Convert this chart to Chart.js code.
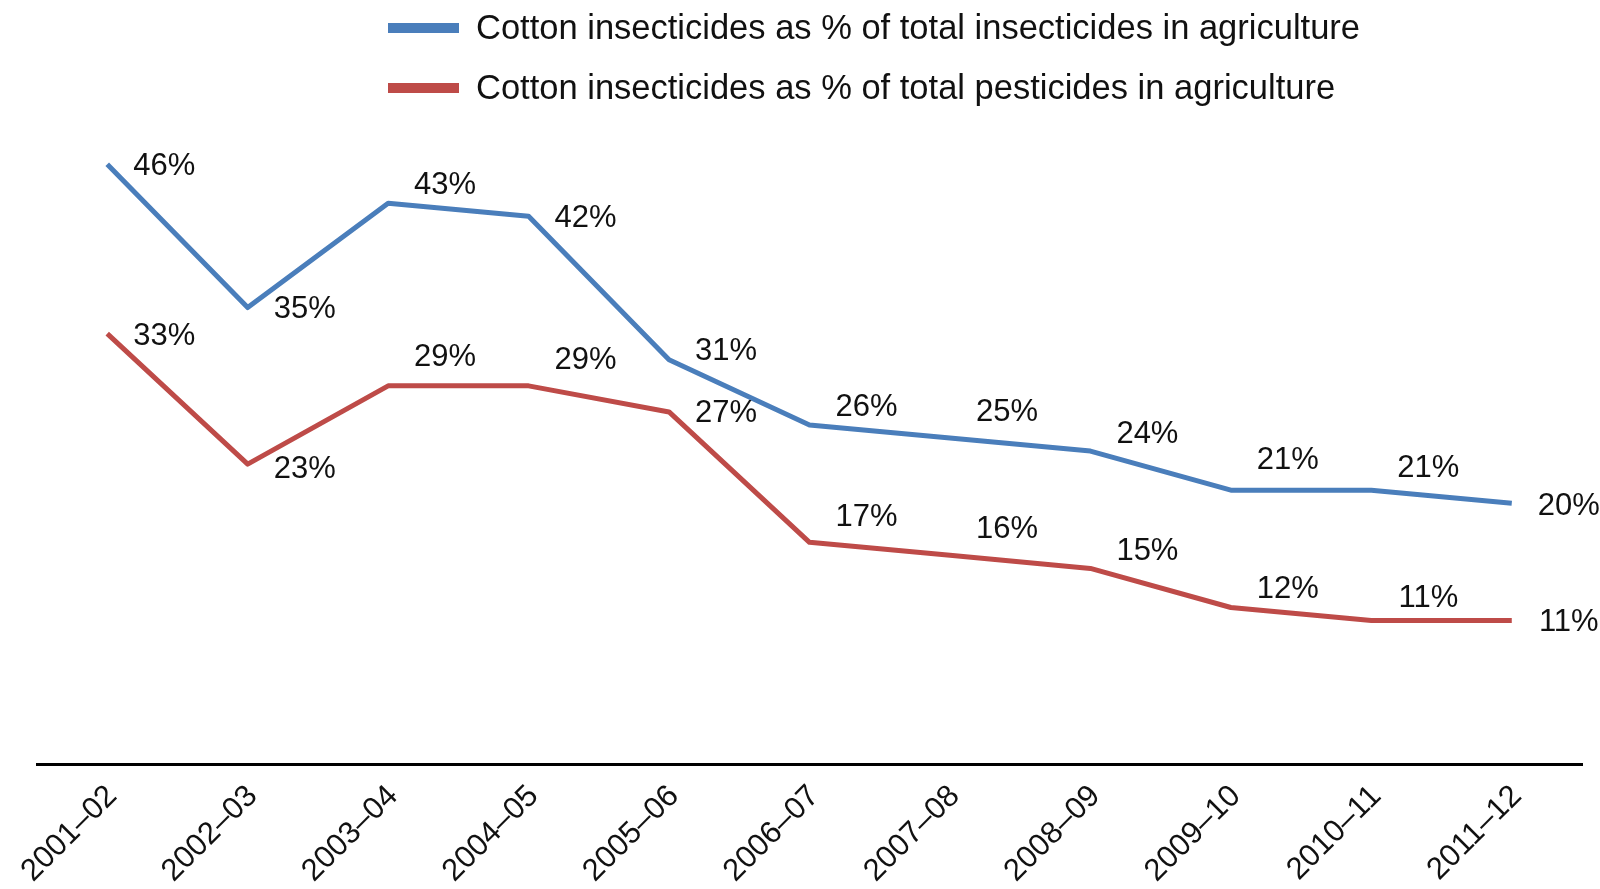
<!DOCTYPE html>
<html>
<head>
<meta charset="utf-8">
<script src="https://cdn.jsdelivr.net/npm/chart.js@4.4.1/dist/chart.umd.min.js"></script>
<style>
  html, body { margin: 0; padding: 0; background: #ffffff; }
  canvas { display: block; }
</style>
</head>
<body>
<canvas id="chart" width="1600" height="889"></canvas>
<script>
// Crop seasons on the category axis
const seasons = ['2001–02', '2002–03', '2003–04', '2004–05', '2005–06', '2006–07',
                 '2007–08', '2008–09', '2009–10', '2010–11', '2011–12'];

// Cotton insecticides as a share (%) of agricultural use
const shareOfInsecticides = [46, 35, 43, 42, 31, 26, 25, 24, 21, 21, 20];
const shareOfPesticides   = [33, 23, 29, 29, 27, 17, 16, 15, 12, 11, 11];

const seriesNames = [
  'Cotton insecticides as % of total insecticides in agriculture',
  'Cotton insecticides as % of total pesticides in agriculture'
];

// Vertical nudge (px) for each value label so the two series don't collide
const liftInsecticides = [2, 2, -18, 2, -8, -18, -26, -17, -30, -22, 3];
const liftPesticides   = [3, 5, -28, -25, 2, -25, -26, -17, -18, -22, 2];

const TEXT = '#111111';
const FONT = '"Liberation Sans", Arial, sans-serif';

// Writes the "nn%" value next to every point
const valueLabels = {
  id: 'valueLabels',
  afterDatasetsDraw(chart) {
    const ctx = chart.ctx;
    ctx.save();
    ctx.font = '31px ' + FONT;
    ctx.fillStyle = TEXT;
    ctx.textAlign = 'center';
    ctx.textBaseline = 'middle';
    chart.data.datasets.forEach((ds, i) => {
      const meta = chart.getDatasetMeta(i);
      meta.data.forEach((pt, j) => {
        ctx.fillText(ds.data[j] + '%', pt.x + 57, pt.y + ds.labelLift[j]);
      });
    });
    ctx.restore();
  }
};

// Two-row legend with thick line swatches, rows left-aligned
const stackedLegend = {
  id: 'stackedLegend',
  afterDraw(chart) {
    const ctx = chart.ctx;
    ctx.save();
    ctx.font = '34.5px ' + FONT;
    ctx.textAlign = 'left';
    ctx.textBaseline = 'middle';
    chart.data.datasets.forEach((ds, i) => {
      const y = 28 + i * 60;
      ctx.fillStyle = ds.borderColor;
      ctx.fillRect(388, y - 5, 71, 10);
      ctx.fillStyle = TEXT;
      ctx.fillText(ds.label, 476, y + 1);
    });
    ctx.restore();
  }
};

new Chart(document.getElementById('chart'), {
  type: 'line',
  data: {
    labels: seasons,
    datasets: [
      {
        label: seriesNames[0],
        data: shareOfInsecticides,
        borderColor: '#4A7EBB',
        labelLift: liftInsecticides
      },
      {
        label: seriesNames[1],
        data: shareOfPesticides,
        borderColor: '#BE4B48',
        labelLift: liftPesticides
      }
    ]
  },
  options: {
    responsive: false,
    devicePixelRatio: 1,
    animation: false,
    layout: { padding: { left: 37, right: 18, top: 112, bottom: 0 } },
    elements: {
      line: { borderWidth: 5, tension: 0, fill: false, borderCapStyle: 'butt', borderJoinStyle: 'round' },
      point: { radius: 0, hoverRadius: 0 }
    },
    scales: {
      x: {
        offset: true,
        grid: { display: false },
        border: { display: true, color: '#000000', width: 3 },
        ticks: {
          autoSkip: false,
          minRotation: 45,
          maxRotation: 45,
          padding: 6,
          labelOffset: 5,
          color: TEXT,
          font: { family: FONT, size: 31 }
        },
        afterFit(scale) { scale.height = 125; }
      },
      y: { display: false, min: 0, max: 50 }
    },
    plugins: {
      legend: { display: false },
      tooltip: { enabled: false }
    }
  },
  plugins: [valueLabels, stackedLegend]
});
</script>
</body>
</html>
